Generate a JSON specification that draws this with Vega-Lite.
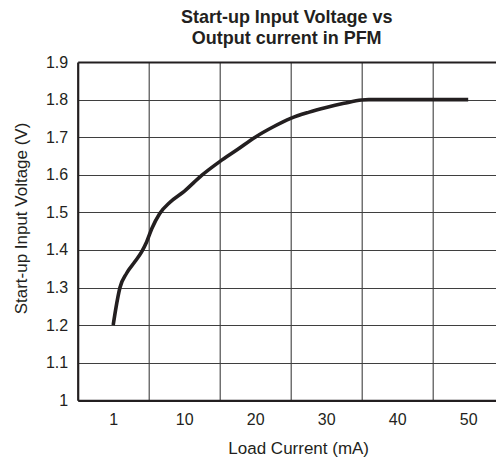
{
  "$schema": "https://vega.github.io/schema/vega-lite/v6.json",
  "autosize": {"type": "none"},
  "padding": {"left": 77.7, "top": 62, "right": 0, "bottom": 57.7},
  "width": 418,
  "height": 338.3,
  "background": "white",
  "title": {
    "text": ["Start-up Input Voltage vs", "Output current in PFM"],
    "font": "Liberation Sans",
    "fontSize": 18,
    "fontWeight": "bold",
    "color": "#231f20",
    "lineHeight": 21.5,
    "anchor": "middle",
    "frame": "group",
    "offset": 6
  },
  "data": {
    "values": [
      {"load_mA": 1.0, "voltage": 1.2},
      {"load_mA": 1.3, "voltage": 1.24},
      {"load_mA": 1.86, "voltage": 1.3},
      {"load_mA": 2.7, "voltage": 1.338},
      {"load_mA": 3.76, "voltage": 1.369},
      {"load_mA": 4.6, "voltage": 1.395},
      {"load_mA": 5.25, "voltage": 1.422},
      {"load_mA": 5.9, "voltage": 1.457},
      {"load_mA": 6.9, "voltage": 1.497},
      {"load_mA": 8.2, "voltage": 1.527},
      {"load_mA": 10.0, "voltage": 1.556},
      {"load_mA": 12.5, "voltage": 1.599},
      {"load_mA": 15.0, "voltage": 1.635},
      {"load_mA": 17.5, "voltage": 1.667},
      {"load_mA": 20.0, "voltage": 1.7},
      {"load_mA": 22.5, "voltage": 1.727},
      {"load_mA": 25.0, "voltage": 1.75},
      {"load_mA": 27.5, "voltage": 1.766},
      {"load_mA": 30.0, "voltage": 1.779},
      {"load_mA": 32.5, "voltage": 1.79},
      {"load_mA": 35.0, "voltage": 1.799},
      {"load_mA": 36.0, "voltage": 1.8},
      {"load_mA": 50.0, "voltage": 1.8}
    ]
  },
  "mark": {
    "type": "line",
    "interpolate": "monotone",
    "color": "#231f20",
    "strokeWidth": 3.6,
    "strokeCap": "butt",
    "strokeJoin": "round"
  },
  "encoding": {
    "x": {
      "field": "load_mA",
      "type": "quantitative",
      "scale": {"domain": [-3.5, 1, 10, 55], "range": [0, 35.5, 106.5, 426]},
      "axis": {
        "title": "Load Current (mA)",
        "values": [5.5, 15, 25, 35, 45, 55],
        "labelExpr": "datum.value < 10 ? '1' : format(datum.value - 5, 'd')",
        "labelOffset": -35.5,
        "labelOverlap": false,
        "labelFlush": false,
        "labelBound": false,
        "labelFont": "Liberation Sans",
        "labelFontSize": 16,
        "labelColor": "#231f20",
        "labelPadding": 11,
        "ticks": false,
        "grid": true,
        "gridColor": "#3f3f3f",
        "gridWidth": 1.1,
        "domain": true,
        "domainColor": "#231f20",
        "domainWidth": 2.2,
        "titleFont": "Liberation Sans",
        "titleFontSize": 17,
        "titleFontWeight": "normal",
        "titleColor": "#231f20",
        "titleX": 220.5,
        "titleY": 40.5,
        "titleBaseline": "top",
        "titleAlign": "center"
      }
    },
    "y": {
      "field": "voltage",
      "type": "quantitative",
      "scale": {"domain": [1, 1.9], "nice": false, "zero": false},
      "axis": {
        "title": "Start-up Input Voltage (V)",
        "values": [1, 1.1, 1.2, 1.3, 1.4, 1.5, 1.6, 1.7, 1.8, 1.9],
        "format": "~g",
        "labelFont": "Liberation Sans",
        "labelFontSize": 16,
        "labelColor": "#231f20",
        "labelPadding": 10,
        "labelOverlap": false,
        "labelFlush": false,
        "labelBound": false,
        "ticks": false,
        "grid": true,
        "gridColor": {"condition": {"test": "datum.value >= 1.89", "value": "#231f20"}, "value": "#3f3f3f"},
        "gridWidth": {"condition": {"test": "datum.value >= 1.89", "value": 2.2}, "value": 1.1},
        "domain": true,
        "domainColor": "#231f20",
        "domainWidth": 2.2,
        "titleFont": "Liberation Sans",
        "titleFontSize": 17,
        "titleFontWeight": "normal",
        "titleColor": "#231f20",
        "titleAngle": 270,
        "titleX": -51,
        "titleY": 156,
        "titleAlign": "center",
        "titleBaseline": "alphabetic"
      }
    }
  },
  "config": {"view": {"stroke": null}}
}
